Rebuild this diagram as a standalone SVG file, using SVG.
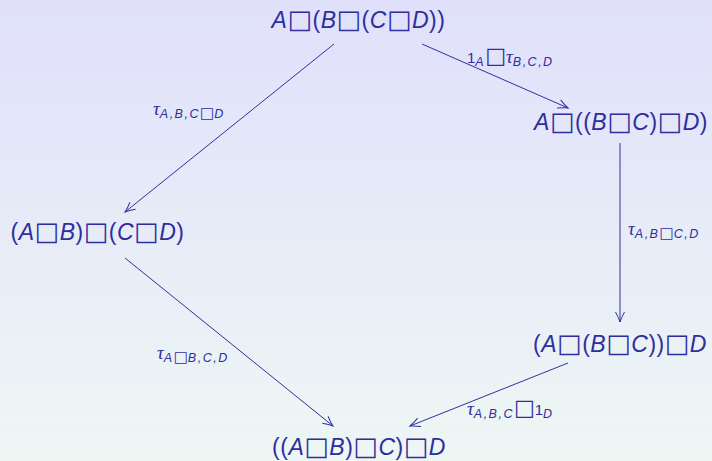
<svg xmlns="http://www.w3.org/2000/svg" width="712" height="461" viewBox="0 0 712 461">
<defs>
<linearGradient id="bg" x1="0" y1="0" x2="0" y2="1">
<stop offset="0" stop-color="#e0e0fb"/>
<stop offset="1" stop-color="#eef7f4"/>
</linearGradient>
<marker id="arr" viewBox="-11 -6 13 12" refX="0" refY="0" markerWidth="13" markerHeight="12" markerUnits="userSpaceOnUse" orient="auto">
<path d="M -10 -4.5 Q -4 -1.2 0 0 Q -4 1.2 -10 4.5" fill="none" stroke="#3030a0" stroke-width="1"/>
</marker>
<style>
.n { font-family: "Liberation Sans", Arial, sans-serif; font-size: 23px; letter-spacing: 0.5px; fill: #2e2e9e; }
.n .i { font-style: italic; }
.b { font-family: "DejaVu Sans", sans-serif; font-size: 26px; }
.l { font-family: "Liberation Sans", Arial, sans-serif; font-size: 15px; fill: #2e2e9e; }
.t { font-family: "Liberation Serif", "DejaVu Serif", serif; font-style: italic; font-size: 19px; }
.s { font-style: italic; font-size: 12.5px; letter-spacing: 1.5px; }
.sb { font-family: "DejaVu Sans", sans-serif; font-size: 15px; }
.lb { font-family: "DejaVu Sans", sans-serif; font-size: 22px; }
.e { fill: none; stroke: #3030a0; stroke-width: 1; marker-end: url(#arr); }
</style>
</defs>
<rect width="712" height="461" fill="url(#bg)"/>

<g id="n-top">
<text class="n" x="358.5" y="28" text-anchor="middle"><tspan class="i">A</tspan><tspan class="b">□</tspan>(<tspan class="i">B</tspan><tspan class="b">□</tspan>(<tspan class="i">C</tspan><tspan class="b">□</tspan><tspan class="i">D</tspan>))</text>
</g>
<g id="n-right">
<text class="n" x="621" y="130" text-anchor="middle"><tspan class="i">A</tspan><tspan class="b">□</tspan>((<tspan class="i">B</tspan><tspan class="b">□</tspan><tspan class="i">C</tspan>)<tspan class="b">□</tspan><tspan class="i">D</tspan>)</text>
</g>
<g id="n-left">
<text class="n" x="97.5" y="240" text-anchor="middle">(<tspan class="i">A</tspan><tspan class="b">□</tspan><tspan class="i">B</tspan>)<tspan class="b">□</tspan>(<tspan class="i">C</tspan><tspan class="b">□</tspan><tspan class="i">D</tspan>)</text>
</g>
<g id="n-lowright">
<text class="n" x="620" y="352" text-anchor="middle">(<tspan class="i">A</tspan><tspan class="b">□</tspan>(<tspan class="i">B</tspan><tspan class="b">□</tspan><tspan class="i">C</tspan>))<tspan class="b">□</tspan><tspan class="i">D</tspan></text>
</g>
<g id="n-bottom">
<text class="n" x="359" y="455" text-anchor="middle">((<tspan class="i">A</tspan><tspan class="b">□</tspan><tspan class="i">B</tspan>)<tspan class="b">□</tspan><tspan class="i">C</tspan>)<tspan class="b">□</tspan><tspan class="i">D</tspan></text>
</g>

<g id="edges">
<line class="e" x1="422" y1="44" x2="568" y2="108"/>
<line class="e" x1="334" y1="44" x2="125" y2="212"/>
<line class="e" x1="620" y1="143" x2="620" y2="322"/>
<line class="e" x1="125" y1="258" x2="333" y2="426"/>
<line class="e" x1="568" y1="363" x2="410" y2="426"/>

<text class="l" x="467" y="63">1<tspan class="s" dy="3">A</tspan><tspan class="lb" dy="-3">□</tspan><tspan class="t">τ</tspan><tspan class="s" dy="3">B,C,D</tspan></text>
<text class="l" x="153" y="115"><tspan class="t">τ</tspan><tspan class="s" dy="3">A,B,C</tspan><tspan class="sb">□</tspan><tspan class="s">D</tspan></text>
<text class="l" x="628" y="235"><tspan class="t">τ</tspan><tspan class="s" dy="3">A,B</tspan><tspan class="sb">□</tspan><tspan class="s">C,D</tspan></text>
<text class="l" x="157" y="359"><tspan class="t">τ</tspan><tspan class="s" dy="3">A</tspan><tspan class="sb">□</tspan><tspan class="s">B,C,D</tspan></text>
<text class="l" x="467" y="415"><tspan class="t">τ</tspan><tspan class="s" dy="3">A,B,C</tspan><tspan class="lb" dy="-3">□</tspan>1<tspan class="s" dy="3">D</tspan></text>
</g>
</svg>
